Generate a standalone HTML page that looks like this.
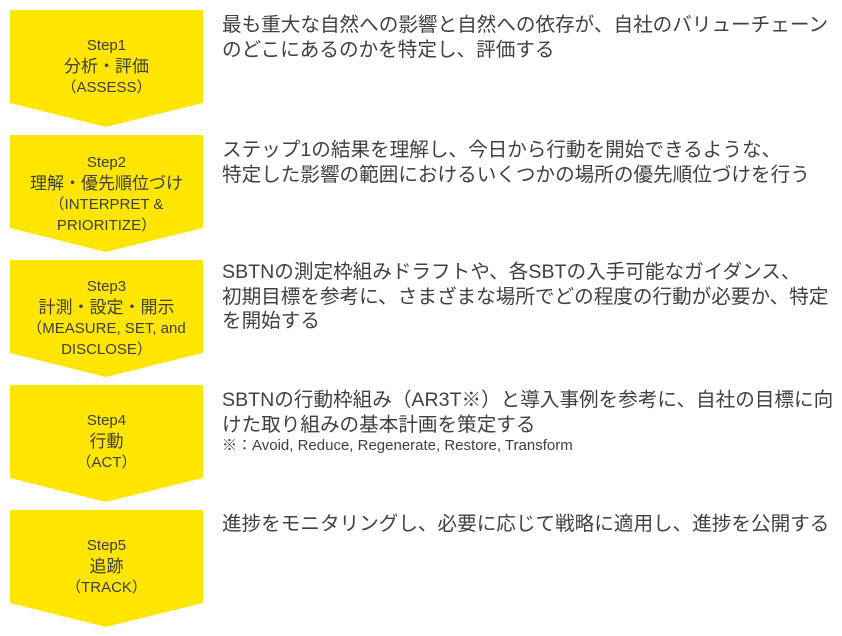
<!DOCTYPE html>
<html><head><meta charset="utf-8"><style>
body{margin:0;width:842px;height:636px;background:#fff;position:relative;overflow:hidden;font-family:"Liberation Sans","Noto Sans CJK JP",sans-serif;color:#404040}
svg{position:absolute;left:0;top:0}
.l{position:absolute;left:10px;width:193px;text-align:center;font-size:15px;line-height:20.5px}
.l b{font-weight:normal;font-size:17px}
.r{position:absolute;left:222px;font-size:19.6px;line-height:24.5px;white-space:nowrap}
.n{font-size:15px;line-height:18px}
</style></head><body>
<svg width="842" height="636">
<g fill="#FFE600">
<polygon points="10,10 203,10 203,103 106,127 10,103"/>
<polygon points="10,135 203,135 203,228 106,252 10,228"/>
<polygon points="10,260 203,260 203,353 106,377 10,353"/>
<polygon points="10,385 203,385 203,478 106,502 10,478"/>
<polygon points="10,510 203,510 203,603 106,627 10,603"/>
</g></svg>
<div class="l" style="top:36px">Step1<br><b>分析・評価</b><br>（ASSESS）</div>
<div class="l" style="top:153px">Step2<br><b>理解・優先順位づけ</b><br>（INTERPRET &amp;<br>PRIORITIZE）</div>
<div class="l" style="top:277px">Step3<br><b>計測・設定・開示</b><br>（MEASURE, SET, and<br>DISCLOSE）</div>
<div class="l" style="top:411px">Step4<br><b>行動</b><br>（ACT）</div>
<div class="l" style="top:536px">Step5<br><b>追跡</b><br>（TRACK）</div>
<div class="r" style="top:13px">最も重大な自然への影響と自然への依存が、自社のバリューチェーン<br>のどこにあるのかを特定し、評価する</div>
<div class="r" style="top:138px">ステップ1の結果を理解し、今日から行動を開始できるような、<br>特定した影響の範囲におけるいくつかの場所の優先順位づけを行う</div>
<div class="r" style="top:260px">SBTNの測定枠組みドラフトや、各SBTの入手可能なガイダンス、<br>初期目標を参考に、さまざまな場所でどの程度の行動が必要か、特定<br>を開始する</div>
<div class="r" style="top:388px">SBTNの行動枠組み（AR3T※）と導入事例を参考に、自社の目標に向<br>けた取り組みの基本計画を策定する</div>
<div class="r n" style="top:437px">※：Avoid, Reduce, Regenerate, Restore, Transform</div>
<div class="r" style="top:512px">進捗をモニタリングし、必要に応じて戦略に適用し、進捗を公開する</div>
</body></html>
